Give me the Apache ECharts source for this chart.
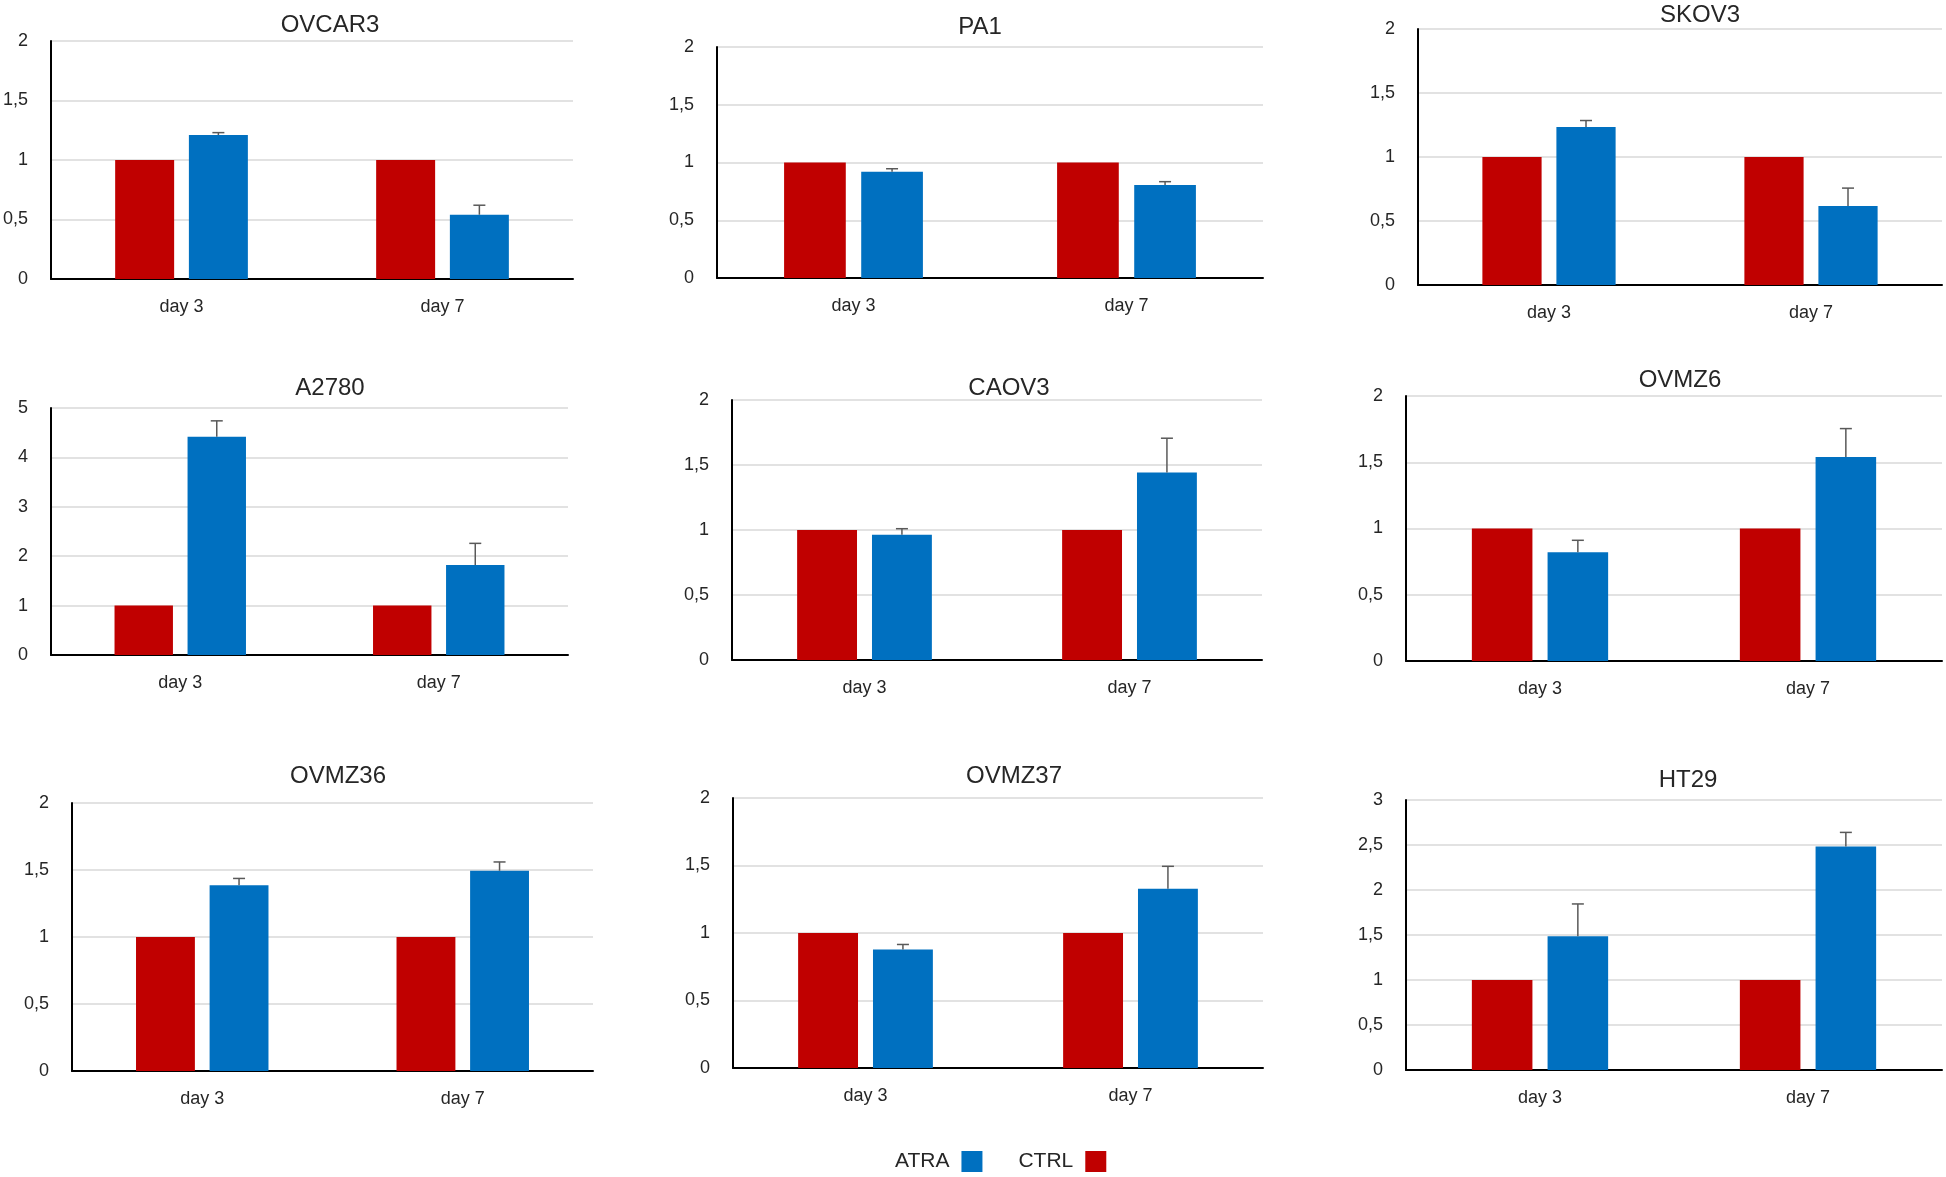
<!DOCTYPE html>
<html>
<head>
<meta charset="utf-8">
<script src="https://cdn.jsdelivr.net/npm/echarts@6/dist/echarts.min.js"></script>
<style>
html,body{margin:0;padding:0;background:#fff;}
#chart{width:1946px;height:1177px;}
</style>
</head>
<body>
<div id="chart"></div>
<script>
const categories = ['day 3', 'day 7'];
const panelTitles = ['OVCAR3', 'PA1', 'SKOV3', 'A2780', 'CAOV3', 'OVMZ6', 'OVMZ36', 'OVMZ37', 'HT29'];
const ctrlValues = [[1, 1], [1, 1], [1, 1], [1, 1], [1, 1], [1, 1], [1, 1], [1, 1], [1, 1]];
const atraValues = [[1.21, 0.54], [0.92, 0.805], [1.235, 0.617], [4.42, 1.82], [0.963, 1.443], [0.821, 1.54], [1.386, 1.494], [0.877, 1.327], [1.485, 2.484]];
const atraErrors = [[0.02, 0.08], [0.026, 0.029], [0.05, 0.14], [0.32, 0.44], [0.047, 0.263], [0.09, 0.214], [0.051, 0.066], [0.038, 0.167], [0.36, 0.156]];
const yMaxes = [2, 2, 2, 5, 2, 2, 2, 2, 3];
const yIntervals = [0.5, 0.5, 0.5, 1, 0.5, 0.5, 0.5, 0.5, 0.5];

// layout: [axisLeft, plotTop, plotRight, plotBottom, titleCenterX, titleTop]
const layouts = [
  [51, 41, 573, 279, 325, 8],
  [717, 47, 1263, 278, 975, 10],
  [1418, 29, 1942, 285, 1695, -2],
  [51, 408, 568, 655, 325, 371],
  [732, 400, 1262, 660, 1004, 371],
  [1406, 396, 1942, 661, 1675, 363],
  [72, 803, 593, 1071, 333, 759],
  [733, 798, 1263, 1068, 1009, 759],
  [1406, 800, 1942, 1070, 1683, 763]
];

const RED = '#C00000', BLUE = '#0070C0';
const FONT = '"Liberation Sans", Arial, sans-serif';
const BAR_W = 0.226, GAP = 0.25;

const grids = [], xAxes = [], yAxes = [], series = [], titles = [];
panelTitles.forEach((name, i) => {
  const L = layouts[i];
  grids.push({left: L[0], top: L[1], width: L[2] - L[0], height: L[3] - L[1], containLabel: false});
  titles.push({text: name, left: L[4], top: L[5], textAlign: 'center',
    textStyle: {fontFamily: FONT, fontSize: 24, fontWeight: 'normal', color: '#262626'}});
  xAxes.push({type: 'category', gridIndex: i, data: categories,
    axisLine: {show: true, lineStyle: {color: '#000', width: 2}},
    axisTick: {show: false},
    axisLabel: {fontFamily: FONT, fontSize: 18, color: '#262626', margin: 19},
    splitLine: {show: false}});
  yAxes.push({type: 'value', gridIndex: i, min: 0, max: yMaxes[i], interval: yIntervals[i],
    axisLine: {show: true, lineStyle: {color: '#000', width: 2}},
    axisTick: {show: false},
    axisLabel: {fontFamily: FONT, fontSize: 18, color: '#262626', margin: 23,
      formatter: v => String(v).replace('.', ',')},
    splitLine: {show: true, lineStyle: {color: '#D9D9D9', width: 1.5}}});
  series.push({name: 'CTRL', type: 'bar', xAxisIndex: i, yAxisIndex: i, data: ctrlValues[i],
    barWidth: (BAR_W * 100) + '%', barGap: (GAP * 100) + '%',
    itemStyle: {color: RED}, z: 2});
  series.push({name: 'ATRA', type: 'bar', xAxisIndex: i, yAxisIndex: i, data: atraValues[i],
    barWidth: (BAR_W * 100) + '%', barGap: (GAP * 100) + '%',
    itemStyle: {color: BLUE}, z: 2});
  series.push({type: 'custom', xAxisIndex: i, yAxisIndex: i,
    data: categories.map((c, k) => [k, atraValues[i][k], atraErrors[i][k]]),
    encode: {x: 0, y: 1}, z: 3, silent: true,
    renderItem: function (params, api) {
      const k = api.value(0), v = api.value(1), e = api.value(2);
      const base = api.coord([k, v]);
      const top = api.coord([k, v + e]);
      const cw = api.size([1, 0])[0];
      const off = cw * BAR_W * (1 + GAP) / 2;
      const x = base[0] + off;
      const cap = 6;
      return {type: 'group', children: [
        {type: 'line', shape: {x1: x, y1: base[1], x2: x, y2: top[1]}, style: {stroke: '#595959', lineWidth: 1.5}},
        {type: 'line', shape: {x1: x - cap, y1: top[1], x2: x + cap, y2: top[1]}, style: {stroke: '#595959', lineWidth: 1.5}}
      ]};
    }});
});

const chart = echarts.init(document.getElementById('chart'), null, {renderer: 'canvas'});
chart.setOption({
  animation: false,
  backgroundColor: '#fff',
  title: titles,
  grid: grids,
  xAxis: xAxes,
  yAxis: yAxes,
  series: series,
  legend: {
    data: ['ATRA', 'CTRL'],
    left: 890, top: 1146,
    itemWidth: 21, itemHeight: 21, itemGap: 36,
    align: 'right',
    icon: 'rect',
    textStyle: {fontFamily: FONT, fontSize: 21, color: '#262626', padding: [0, 7, 0, 0]}
  }
});
</script>
</body>
</html>
